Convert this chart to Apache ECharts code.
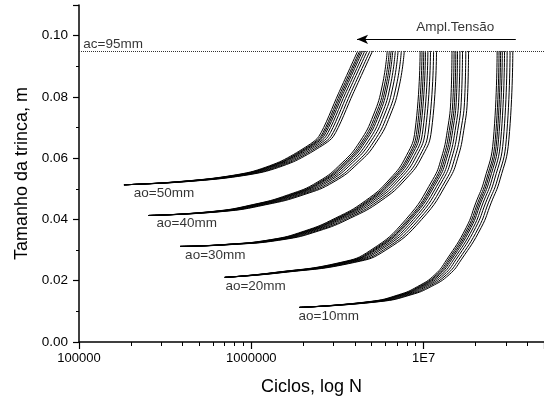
<!DOCTYPE html>
<html>
<head>
<meta charset="utf-8">
<script src="https://cdn.jsdelivr.net/npm/echarts@6/dist/echarts.min.js"></script>
<style>
  html, body { margin: 0; padding: 0; background: #fff; }
  #chart { width: 544px; height: 403px; }
</style>
</head>
<body>
<div id="chart"></div>
<script>
// crack size (m) at the sampled points of each family, and log10 of cycles for each stress amplitude
const crack50 = [0.0513, 0.052, 0.0534, 0.0555, 0.0588, 0.0627, 0.067, 0.081, 0.095]
const logCycles50 = [
  [5.261, 5.498, 5.772, 5.996, 6.164, 6.289, 6.391, 6.505, 6.618],
  [5.261, 5.503, 5.78, 6.005, 6.174, 6.299, 6.402, 6.515, 6.629],
  [5.261, 5.507, 5.786, 6.012, 6.182, 6.307, 6.41, 6.524, 6.637],
  [5.261, 5.511, 5.793, 6.02, 6.19, 6.316, 6.419, 6.533, 6.646],
  [5.261, 5.517, 5.802, 6.031, 6.202, 6.328, 6.431, 6.545, 6.659],
  [5.261, 5.524, 5.813, 6.044, 6.215, 6.342, 6.445, 6.559, 6.673],
  [5.261, 5.531, 5.825, 6.058, 6.23, 6.357, 6.461, 6.575, 6.689],
  [5.261, 5.538, 5.836, 6.071, 6.244, 6.371, 6.475, 6.59, 6.704]
]

const crack40 = [0.0413, 0.0426, 0.0448, 0.0481, 0.0523, 0.0585, 0.0653, 0.0741, 0.0839, 0.095]
const logCycles40 = [
  [5.404, 5.773, 6.005, 6.217, 6.387, 6.527, 6.629, 6.709, 6.761, 6.789],
  [5.404, 5.781, 6.014, 6.228, 6.398, 6.539, 6.641, 6.721, 6.773, 6.801],
  [5.404, 5.787, 6.022, 6.237, 6.407, 6.549, 6.651, 6.731, 6.783, 6.811],
  [5.404, 5.794, 6.031, 6.246, 6.417, 6.559, 6.661, 6.741, 6.793, 6.821],
  [5.404, 5.802, 6.042, 6.259, 6.431, 6.573, 6.676, 6.756, 6.808, 6.836],
  [5.404, 5.813, 6.055, 6.274, 6.446, 6.588, 6.692, 6.772, 6.824, 6.852],
  [5.404, 5.825, 6.07, 6.29, 6.464, 6.607, 6.71, 6.79, 6.843, 6.871],
  [5.404, 5.835, 6.084, 6.306, 6.48, 6.623, 6.727, 6.807, 6.86, 6.888]
]

const crack30 = [0.0312, 0.0318, 0.0334, 0.0362, 0.0404, 0.0461, 0.0532, 0.0608, 0.0692, 0.095]
const logCycles30 = [
  [5.587, 5.838, 6.112, 6.307, 6.487, 6.662, 6.804, 6.9, 6.951, 6.98],
  [5.587, 5.844, 6.12, 6.317, 6.497, 6.673, 6.815, 6.912, 6.962, 6.991],
  [5.587, 5.848, 6.128, 6.325, 6.506, 6.682, 6.824, 6.921, 6.972, 7.001],
  [5.587, 5.853, 6.135, 6.333, 6.515, 6.692, 6.834, 6.931, 6.982, 7.011],
  [5.587, 5.86, 6.145, 6.345, 6.528, 6.705, 6.848, 6.945, 6.996, 7.025],
  [5.587, 5.867, 6.157, 6.358, 6.542, 6.72, 6.863, 6.96, 7.011, 7.04],
  [5.587, 5.876, 6.17, 6.374, 6.559, 6.737, 6.881, 6.978, 7.029, 7.058],
  [5.587, 5.884, 6.183, 6.388, 6.574, 6.753, 6.897, 6.994, 7.046, 7.075]
]

const crack20 = [0.0211, 0.0226, 0.026, 0.030, 0.040, 0.053, 0.060, 0.069, 0.080, 0.095]
const logCycles20 = [
  [5.846, 6.122, 6.52, 6.694, 6.897, 7.053, 7.103, 7.138, 7.159, 7.165],
  [5.846, 6.128, 6.53, 6.704, 6.909, 7.065, 7.114, 7.149, 7.171, 7.177],
  [5.846, 6.133, 6.538, 6.713, 6.918, 7.074, 7.124, 7.159, 7.181, 7.187],
  [5.846, 6.139, 6.546, 6.722, 6.927, 7.084, 7.134, 7.169, 7.191, 7.197],
  [5.846, 6.146, 6.558, 6.735, 6.941, 7.098, 7.148, 7.183, 7.205, 7.211],
  [5.846, 6.154, 6.571, 6.749, 6.956, 7.113, 7.163, 7.198, 7.22, 7.226],
  [5.846, 6.164, 6.587, 6.766, 6.973, 7.131, 7.181, 7.216, 7.239, 7.245],
  [5.846, 6.172, 6.601, 6.781, 6.989, 7.147, 7.198, 7.233, 7.255, 7.261]
]

const crack10 = [0.0113, 0.0132, 0.0154, 0.0181, 0.022, 0.0268, 0.0373, 0.0454, 0.0529, 0.066, 0.095]
const logCycles10 = [
  [6.28, 6.687, 6.854, 6.965, 7.066, 7.133, 7.247, 7.303, 7.353, 7.405, 7.427],
  [6.28, 6.695, 6.863, 6.974, 7.076, 7.143, 7.257, 7.314, 7.364, 7.416, 7.438],
  [6.28, 6.701, 6.87, 6.982, 7.084, 7.152, 7.266, 7.323, 7.373, 7.425, 7.447],
  [6.28, 6.708, 6.878, 6.991, 7.093, 7.161, 7.275, 7.332, 7.383, 7.435, 7.457],
  [6.28, 6.716, 6.888, 7.002, 7.105, 7.173, 7.288, 7.345, 7.396, 7.448, 7.47],
  [6.28, 6.727, 6.9, 7.015, 7.119, 7.187, 7.302, 7.36, 7.411, 7.463, 7.485],
  [6.28, 6.739, 6.914, 7.03, 7.134, 7.203, 7.319, 7.376, 7.428, 7.48, 7.502],
  [6.28, 6.749, 6.927, 7.044, 7.149, 7.218, 7.334, 7.392, 7.443, 7.495, 7.518]
]

const criticalCrack = 0.095
// arrow "Ampl.Tensão": from / to (cycles, crack)
const arrowFrom = [3.43e7, 0.0988]
const arrowTo = [4.11e6, 0.0988]

// text notes: [cycles, crack, text]
const notes = [
  [2.08e5, 0.0486, 'ao=50mm'],
  [2.82e5, 0.0386, 'ao=40mm'],
  [4.13e5, 0.0283, 'ao=30mm'],
  [7.08e5, 0.0181, 'ao=20mm'],
  [1.88e6, 0.0083, 'ao=10mm'],
  [1.06e5, 0.0973, 'ac=95mm'],
  [9.06e6, 0.1028, 'Ampl.Tensão']
]

const FONT = '"Liberation Sans", Arial, Helvetica, sans-serif'

const familySeries = (crack, logCycles, smooth) =>
  logCycles.map(row => ({
    type: 'line',
    data: row.map((lg, i) => [Math.pow(10, lg), crack[i]]),
    smooth: smooth,
    showSymbol: false,
    silent: true,
    lineStyle: { color: '#000', width: 1 }
  }))

const series = [
  ...familySeries(crack50, logCycles50, 0.25),
  ...familySeries(crack40, logCycles40, 0.5),
  ...familySeries(crack30, logCycles30, 0.5),
  ...familySeries(crack20, logCycles20, 0.5),
  ...familySeries(crack10, logCycles10, 0.5),
  {
    type: 'line',
    data: [],
    silent: true,
    markLine: {
      silent: true,
      animation: false,
      label: { show: false },
      data: [
        [
          { coord: [1e5, criticalCrack], symbol: 'none', lineStyle: { type: 'dotted', color: '#333', width: 1 } },
          { coord: [5e7, criticalCrack], symbol: 'none' }
        ],
        [
          { coord: arrowFrom, symbol: 'none' },
          { coord: arrowTo, symbol: 'arrow', symbolSize: [7, 11] }
        ]
      ],
      lineStyle: { color: '#000', width: 1, type: 'solid' }
    }
  },
  {
    type: 'scatter',
    symbolSize: 0,
    silent: true,
    data: notes.map(n => ({ value: [n[0], n[1]], name: n[2] })),
    label: {
      show: true,
      position: 'right',
      distance: 0,
      formatter: p => p.name,
      color: '#000',
      fontSize: 13.5,
      fontFamily: FONT
    }
  }
]

const chart = echarts.init(document.getElementById('chart'))
chart.setOption({
  animation: false,
  textStyle: { fontFamily: FONT },
  grid: { left: 79, top: 5, width: 472, height: 337 },
  xAxis: {
    type: 'log',
    logBase: 10,
    min: 1e5,
    max: 5e7,
    interval: 1,
    name: 'Ciclos, log N',
    nameLocation: 'middle',
    nameGap: 36,
    nameTextStyle: { color: '#000', fontSize: 18, fontFamily: FONT },
    axisLine: { lineStyle: { color: '#000', width: 1.5 } },
    axisTick: { length: 7, lineStyle: { color: '#000', width: 1.2 } },
    minorTick: { show: true, splitNumber: 9, length: 4, lineStyle: { color: '#000', width: 1 } },
    splitLine: { show: false },
    minorSplitLine: { show: false },
    axisLabel: {
      color: '#000',
      fontSize: 13,
      fontFamily: FONT,
      margin: 10,
      showMaxLabel: false,
      formatter: v => {
        const e = Math.round(Math.log10(v))
        return e >= 7 ? '1E' + e : String(Math.pow(10, e))
      }
    }
  },
  yAxis: {
    type: 'value',
    min: 0,
    max: 0.11,
    interval: 0.02,
    name: 'Tamanho da trinca, m',
    nameLocation: 'middle',
    nameGap: 46,
    nameTextStyle: { color: '#000', fontSize: 18, fontFamily: FONT },
    axisLine: { show: true, lineStyle: { color: '#000', width: 1.5 } },
    axisTick: { show: true, length: 6, lineStyle: { color: '#000', width: 1.2 } },
    minorTick: { show: true, splitNumber: 2, length: 3, lineStyle: { color: '#000', width: 1 } },
    splitLine: { show: false },
    axisLabel: {
      color: '#000',
      fontSize: 13.5,
      fontFamily: FONT,
      margin: 11,
      showMaxLabel: false,
      formatter: v => v.toFixed(2)
    }
  },
  series
})
</script>
</body>
</html>
